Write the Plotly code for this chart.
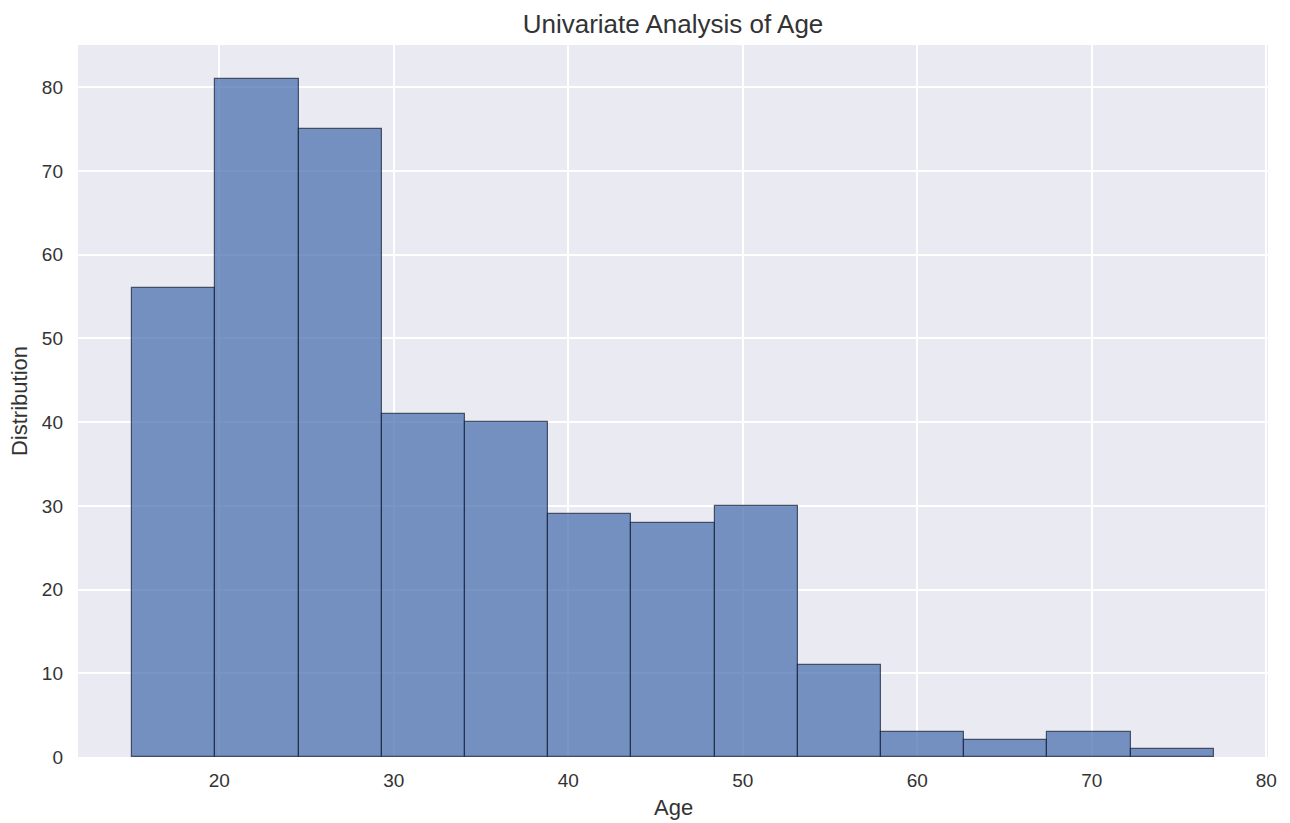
import numpy as np
import plotly.graph_objects as go

# Data
bin_start = 15.0
bin_end = 77.0
counts = [56, 81, 75, 41, 40, 29, 28, 30, 11, 3, 2, 3, 1]
x_ticks = [20, 30, 40, 50, 60, 70, 80]
y_ticks = [0, 10, 20, 30, 40, 50, 60, 70, 80]

edges = np.linspace(bin_start, bin_end, len(counts) + 1)
centers = (edges[:-1] + edges[1:]) / 2
widths = np.diff(edges)

fig = go.Figure(
    go.Bar(
        x=centers,
        y=counts,
        width=widths,
        marker=dict(color="rgba(76,114,176,0.75)",
                    line=dict(color="rgba(20,30,50,0.7)", width=1.2)),
        hoverinfo="y",
    )
)

span = bin_end - bin_start
W, H = 1290, 823
ML, MR, MT, MB = 78, 22, 45, 66
plot_h = H - MT - MB
fig.update_layout(
    width=W, height=H,
    margin=dict(l=ML, r=MR, t=MT, b=MB, autoexpand=False),
    paper_bgcolor="white",
    plot_bgcolor="#EAEAF2",
    bargap=0,
    showlegend=False,
    font=dict(family="Liberation Sans, Arial, sans-serif", size=19, color="#333333"),
    title=dict(text="Univariate Analysis of Age", xref="paper", x=0.5, xanchor="center",
               y=1 - 24 / H, yanchor="middle", font=dict(size=26, color="#333333")),
    xaxis=dict(
        range=[bin_start - 0.05 * span, bin_end + 0.05 * span],
        tickvals=x_ticks, ticks="", showgrid=True, gridcolor="white", gridwidth=1.5,
        zeroline=False, showline=False, ticklabelstandoff=10, automargin=False,
    ),
    yaxis=dict(
        range=[0, max(counts) * 1.05],
        tickvals=y_ticks, ticks="", showgrid=True, gridcolor="white", gridwidth=1.5,
        zeroline=False, showline=False, ticklabelstandoff=14, automargin=False,
        title=dict(text="Distribution", standoff=8, font=dict(size=22, color="#333333")),
    ),
    annotations=[dict(
        text="Age", xref="paper", yref="paper", x=0.5, y=-50 / plot_h,
        xanchor="center", yanchor="middle", showarrow=False,
        font=dict(size=22, color="#333333"),
    )],
)

fig.write_html("out.html", config={"displayModeBar": False},
               post_script="document.body.style.margin='0';")
